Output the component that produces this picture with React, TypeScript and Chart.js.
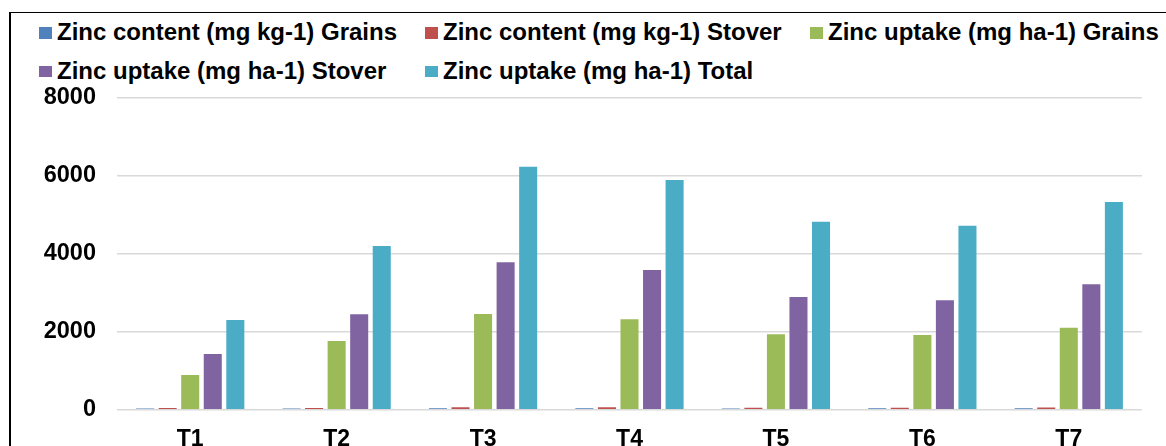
import React, { useEffect, useRef } from "react";
import { Chart, registerables } from "chart.js";

Chart.register(...registerables);

const categories = ["T1", "T2", "T3", "T4", "T5", "T6", "T7"];
const seriesNames = [
  "Zinc content (mg kg-1) Grains",
  "Zinc content (mg kg-1) Stover",
  "Zinc uptake (mg ha-1) Grains",
  "Zinc uptake (mg ha-1) Stover",
  "Zinc uptake (mg ha-1) Total",
];
const zincContentGrains = [30, 32, 38, 36, 33, 34, 35];
const zincContentStover = [42, 44, 62, 60, 48, 50, 55];
const zincUptakeGrains = [890, 1762, 2454, 2318, 1933, 1915, 2103];
const zincUptakeStover = [1428, 2446, 3779, 3582, 2890, 2805, 3215];
const zincUptakeTotal = [2300, 4197, 6231, 5890, 4821, 4718, 5326];
const yTicks = [0, 2000, 4000, 6000, 8000];
const seriesColors = ["#4F81BD", "#C0504D", "#9BBB59", "#8064A2", "#4BACC6"];

const FONT = '"Liberation Sans", Arial, Helvetica, sans-serif';
const CANVAS_W = 1166;
const CANVAS_H = 480;
const PLOT_TOP = 97.7;
const PLOT_BOTTOM = 409.7;
const PLOT_LEFT = 117;
const PLOT_RIGHT = 1142;

export default function App() {
  const canvasRef = useRef<HTMLCanvasElement | null>(null);

  useEffect(() => {
    const canvas = canvasRef.current;
    if (!canvas) return;
    const seriesValues = [
      zincContentGrains,
      zincContentStover,
      zincUptakeGrains,
      zincUptakeStover,
      zincUptakeTotal,
    ];
    const chart = new Chart(canvas, {
      type: "bar",
      data: {
        labels: categories,
        datasets: seriesNames.map((name, i) => ({
          label: name,
          data: seriesValues[i],
          backgroundColor: seriesColors[i],
          borderWidth: 0,
          categoryPercentage: 0.77,
          barPercentage: 0.8,
        })),
      },
      options: {
        responsive: false,
        animation: false,
        devicePixelRatio: 1,
        layout: {
          padding: { top: PLOT_TOP, left: 0, right: CANVAS_W - PLOT_RIGHT, bottom: 0 },
        },
        plugins: {
          legend: { display: false },
          tooltip: { enabled: false },
          title: { display: false },
        },
        scales: {
          x: {
            grid: { display: false, drawTicks: false },
            border: { display: false },
            ticks: {
              color: "#000",
              padding: 16.5,
              font: { family: FONT, size: 23, weight: "bold" },
            },
            afterFit: (scale: any) => {
              scale.height = CANVAS_H - PLOT_BOTTOM;
            },
          },
          y: {
            min: 0,
            max: 8000,
            afterBuildTicks: (scale: any) => {
              scale.ticks = yTicks.map((v) => ({ value: v }));
            },
            grid: { color: "#d9d9d9", lineWidth: 1.5, drawTicks: false },
            border: { display: false },
            ticks: {
              color: "#000",
              padding: 21,
              font: { family: FONT, size: 23.5, weight: "bold" },
              callback: (v: any) => String(v),
            },
            afterFit: (scale: any) => {
              scale.width = PLOT_LEFT;
            },
          },
        },
      },
    });
    return () => chart.destroy();
  }, []);

  const colX = [39, 425, 810];
  const rows = [
    { boxTop: 27.3, textTop: 19.6 },
    { boxTop: 65.7, textTop: 59 },
  ];

  return (
    <div
      style={{
        position: "absolute",
        left: 0,
        top: 0,
        width: CANVAS_W,
        height: 446,
        overflow: "hidden",
        background: "#fff",
      }}
    >
      <div
        style={{
          position: "absolute",
          left: 9,
          top: 12,
          width: 1400,
          height: 600,
          borderLeft: "2px solid #000",
          borderTop: "1.5px solid #000",
          boxSizing: "border-box",
        }}
      />
      {seriesNames.map((name, i) => {
        const row = rows[Math.floor(i / 3)];
        const x = colX[i % 3];
        return (
          <React.Fragment key={name}>
            <div
              style={{
                position: "absolute",
                left: x,
                top: row.boxTop,
                width: 12.5,
                height: 11.5,
                background: seriesColors[i],
              }}
            />
            <div
              style={{
                position: "absolute",
                left: x + 18,
                top: row.textTop,
                fontFamily: FONT,
                fontWeight: "bold",
                fontSize: 24,
                lineHeight: "24px",
                whiteSpace: "nowrap",
                color: "#000",
              }}
            >
              {name}
            </div>
          </React.Fragment>
        );
      })}
      <canvas
        ref={canvasRef}
        width={CANVAS_W}
        height={CANVAS_H}
        style={{ position: "absolute", left: 0, top: 0, width: CANVAS_W, height: CANVAS_H }}
      />
    </div>
  );
}
